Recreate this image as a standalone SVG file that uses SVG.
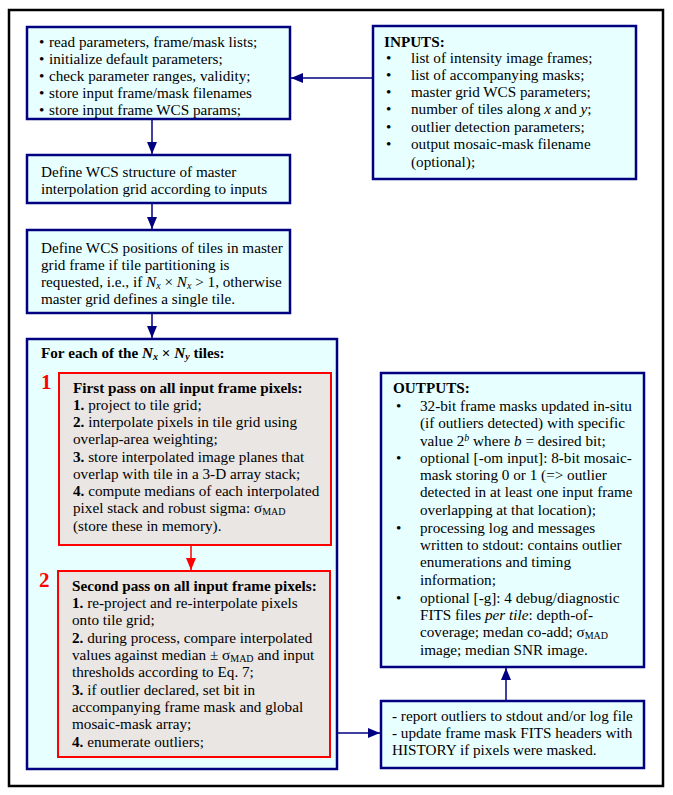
<svg xmlns="http://www.w3.org/2000/svg" width="673" height="795" viewBox="0 0 673 795">
<defs>
<style>
text{font-family:"Liberation Serif","Times New Roman",serif;font-size:15.2px;fill:#000}
.b{font-weight:bold}
.i{font-style:italic}
.box{fill:#E8FFFF;stroke:#000080;stroke-width:2.5}
.red{fill:#EAE6E4;stroke:#FF0000;stroke-width:2}
.num{font-family:"Liberation Serif",serif;font-weight:bold;font-size:21px;fill:#FF0000}
.c{stroke:#000080;stroke-width:1.5;fill:none}
.cr{stroke:#FF0000;stroke-width:1.5;fill:none}
.sm{font-size:10px}
</style>
<marker id="ah" viewBox="0 0 12 10" refX="12" refY="5" markerWidth="12" markerHeight="10" markerUnits="userSpaceOnUse" orient="auto">
<path d="M0,0 L12,5 L0,10 Z" fill="#000080"/>
</marker>
<marker id="ahr" viewBox="0 0 12 10" refX="12" refY="5" markerWidth="12" markerHeight="10" markerUnits="userSpaceOnUse" orient="auto">
<path d="M0,0 L12,5 L0,10 Z" fill="#FF0000"/>
</marker>
<clipPath id="clip1"><rect x="27" y="27" width="263" height="92"/></clipPath>
</defs>
<rect x="0" y="0" width="673" height="795" fill="#fff"/>
<rect x="9" y="10" width="654" height="776" fill="none" stroke="#000" stroke-width="2.5"/>

<g id="init">
<rect class="box" x="27" y="27" width="263" height="92"/>
<g clip-path="url(#clip1)">
<text x="39" y="47">•</text><text x="49" y="47">read parameters, frame/mask lists;</text>
<text x="39" y="64">•</text><text x="49" y="64">initialize default parameters;</text>
<text x="39" y="81">•</text><text x="49" y="81">check parameter ranges, validity;</text>
<text x="39" y="98">•</text><text x="49" y="98">store input frame/mask filenames</text>
<text x="39" y="115">•</text><text x="49" y="115">store input frame WCS params;</text>
</g>
</g>

<g id="inputs">
<rect class="box" x="373" y="26" width="263" height="153"/>
<text x="384" y="47" class="b">INPUTS:</text>
<text x="386" y="63">•</text><text x="411" y="63">list of intensity image frames;</text>
<text x="386" y="80">•</text><text x="411" y="80">list of accompanying masks;</text>
<text x="386" y="97">•</text><text x="411" y="97">master grid WCS parameters;</text>
<text x="386" y="114">•</text><text x="411" y="114">number of tiles along <tspan class="i">x</tspan> and <tspan class="i">y</tspan>;</text>
<text x="386" y="132">•</text><text x="411" y="132">outlier detection parameters;</text>
<text x="386" y="149">•</text><text x="411" y="149">output mosaic-mask filename</text>
<text x="411" y="167">(optional);</text>
</g>

<g id="wcs">
<rect class="box" x="27" y="155" width="263" height="48"/>
<text x="41" y="177">Define WCS structure of master</text>
<text x="41" y="194">interpolation grid according to inputs</text>
</g>

<g id="tiles">
<rect class="box" x="27" y="230" width="263" height="83"/>
<text x="41" y="253">Define WCS positions of tiles in master</text>
<text x="41" y="270">grid frame if tile partitioning is</text>
<text x="41" y="287">requested, i.e., if <tspan class="i">N</tspan><tspan class="i sm" dy="2">x</tspan><tspan dy="-2"> × </tspan><tspan class="i">N</tspan><tspan class="i sm" dy="2">x</tspan><tspan dy="-2"> &gt; 1, otherwise</tspan></text>
<text x="41" y="304">master grid defines a single tile.</text>
</g>

<g id="loop">
<rect class="box" x="27" y="339" width="310" height="430"/>
<text x="41" y="358" class="b">For each of the <tspan class="i">N</tspan><tspan class="i sm" dy="2">x</tspan><tspan dy="-2"> × </tspan><tspan class="i">N</tspan><tspan class="i sm" dy="2">y</tspan><tspan dy="-2"> tiles:</tspan></text>
</g>

<g id="pass1">
<rect class="red" x="59" y="373" width="272" height="172"/>
<text x="41" y="389" class="num">1</text>
<text x="73" y="393" class="b">First pass on all input frame pixels:</text>
<text x="73" y="410"><tspan class="b">1.</tspan> project to tile grid;</text>
<text x="73" y="427"><tspan class="b">2.</tspan> interpolate pixels in tile grid using</text>
<text x="73" y="444">overlap-area weighting;</text>
<text x="73" y="462"><tspan class="b">3.</tspan> store interpolated image planes that</text>
<text x="73" y="479">overlap with tile in a 3-D array stack;</text>
<text x="73" y="496"><tspan class="b">4.</tspan> compute medians of each interpolated</text>
<text x="73" y="513">pixel stack and robust sigma: σ<tspan class="sm" dy="2">MAD</tspan></text>
<text x="73" y="531">(store these in memory).</text>
</g>

<g id="pass2">
<rect class="red" x="58" y="571" width="272" height="186"/>
<text x="39" y="587" class="num">2</text>
<text x="72" y="591" class="b">Second pass on all input frame pixels:</text>
<text x="72" y="608"><tspan class="b">1.</tspan> re-project and re-interpolate pixels</text>
<text x="72" y="625">onto tile grid;</text>
<text x="72" y="643"><tspan class="b">2.</tspan> during process, compare interpolated</text>
<text x="72" y="660">values against median ± σ<tspan class="sm" dy="2">MAD</tspan><tspan dy="-2"> and input</tspan></text>
<text x="72" y="677">thresholds according to Eq. 7;</text>
<text x="72" y="695"><tspan class="b">3.</tspan> if outlier declared, set bit in</text>
<text x="72" y="712">accompanying frame mask and global</text>
<text x="72" y="729">mosaic-mask array;</text>
<text x="72" y="747"><tspan class="b">4.</tspan> enumerate outliers;</text>
</g>

<g id="outputs">
<rect class="box" x="381" y="373" width="263" height="294"/>
<text x="393" y="393" class="b">OUTPUTS:</text>
<text x="396" y="411">•</text><text x="420" y="411">32-bit frame masks updated in-situ</text>
<text x="420" y="428">(if outliers detected) with specific</text>
<text x="420" y="446">value 2<tspan class="i sm" dy="-5">b</tspan><tspan dy="5"> where </tspan><tspan class="i">b</tspan> = desired bit;</text>
<text x="396" y="463">•</text><text x="420" y="463">optional [-om input]: 8-bit mosaic-</text>
<text x="420" y="480">mask storing 0 or 1 (=&gt; outlier</text>
<text x="420" y="497">detected in at least one input frame</text>
<text x="420" y="515">overlapping at that location);</text>
<text x="396" y="533">•</text><text x="420" y="533">processing log and messages</text>
<text x="420" y="550">written to stdout: contains outlier</text>
<text x="420" y="567">enumerations and timing</text>
<text x="420" y="585">information;</text>
<text x="396" y="603">•</text><text x="420" y="603">optional [-g]: 4 debug/diagnostic</text>
<text x="420" y="620">FITS files <tspan class="i">per tile</tspan>: depth-of-</text>
<text x="420" y="637">coverage; medan co-add; σ<tspan class="sm" dy="2">MAD</tspan></text>
<text x="420" y="655">image; median SNR image.</text>
</g>

<g id="report">
<rect class="box" x="381" y="701" width="263" height="67"/>
<text x="392" y="721">- report outliers to stdout and/or log file</text>
<text x="392" y="738">- update frame mask FITS headers with</text>
<text x="392" y="755">HISTORY if pixels were masked.</text>
</g>

<g id="connectors">
<line class="c" x1="372" y1="78" x2="291" y2="78" marker-end="url(#ah)"/>
<line class="c" x1="152" y1="120" x2="152" y2="154" marker-end="url(#ah)"/>
<line class="c" x1="152" y1="204" x2="152" y2="229" marker-end="url(#ah)"/>
<line class="c" x1="152" y1="314" x2="152" y2="338" marker-end="url(#ah)"/>
<line class="cr" x1="191" y1="546" x2="191" y2="570" marker-end="url(#ahr)"/>
<line class="c" x1="338" y1="733" x2="380" y2="733" marker-end="url(#ah)"/>
<line class="c" x1="506" y1="700" x2="506" y2="668" marker-end="url(#ah)"/>
</g>
</svg>
